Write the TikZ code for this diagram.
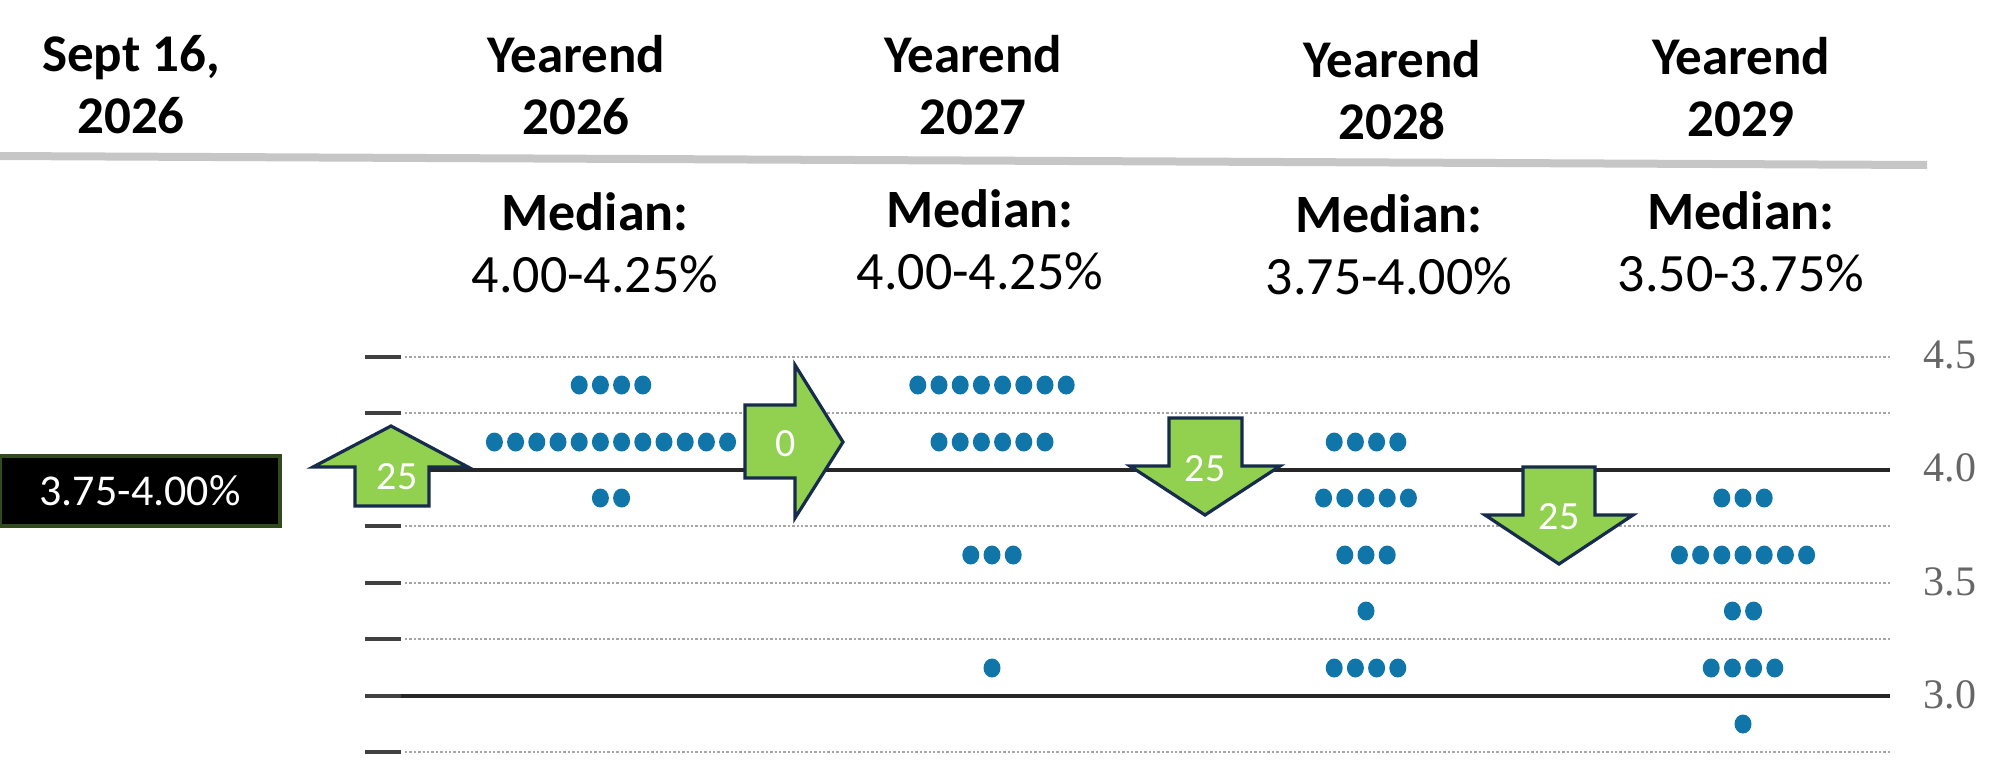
\documentclass[tikz,border=0pt]{standalone}
\usepackage{fontspec}
\setmainfont{Carlito}
\newfontfamily\axisfont{Liberation Serif}
\definecolor{dotblue}{RGB}{16,118,170}
\definecolor{arrowgreen}{RGB}{146,208,80}
\definecolor{arrowline}{RGB}{23,43,77}
\definecolor{boxgreen}{RGB}{50,75,30}
\newcommand{\dotrow}[3]{% center x, y, count
  \foreach \k in {1,...,#3}
    \fill[dotblue] ({#1+21.2*(\k-(#3+1)/2)},#2) ellipse (8.5 and 9.5);}
\tikzset{
  head/.style={font=\bfseries\fontsize{26.5}{31}\selectfont, align=center},
  median/.style={font=\fontsize{27}{31}\selectfont, align=center},
  grid/.style={gray!70, densely dotted, line width=1.2pt},
  level/.style={black!85, line width=2pt},
  tick/.style={black!75, line width=2.2pt},
  move/.style={fill=arrowgreen, draw=arrowline, line width=1.6pt, line join=miter},
  movelabel/.style={text=white, font=\fontsize{20}{22}\selectfont},
  axislabel/.style={text=gray!80!black, font=\axisfont\fontsize{21}{23}\selectfont},
}
\begin{document}
\begin{tikzpicture}[x=0.5pt,y=-0.5pt]
\useasboundingbox (0,0) rectangle (1998,773);
% header
\node[head] (sept) at (131,85) {Sept 16,\\2026};
\node[head] (y26) at (576,85) {Yearend\\2026};
\node[head] (y27) at (973,85) {Yearend\\2027};
\node[head] (y28) at (1392,90) {Yearend\\2028};
\node[head] (y29) at (1741,87) {Yearend\\2029};
\draw[gray!45, line width=4pt] (0,156) -- (1927,165);
\node[median] (m26) at (595,243) {\textbf{Median:}\\4.00-4.25\%};
\node[median] (m27) at (980,240) {\textbf{Median:}\\4.00-4.25\%};
\node[median] (m28) at (1389,245) {\textbf{Median:}\\3.75-4.00\%};
\node[median] (m29) at (1741,242) {\textbf{Median:}\\3.50-3.75\%};
% grid
\foreach \yy in {357,413,526,583,639,752}
  \draw[grid] (405,\yy) -- (1890,\yy);
\foreach \yy in {470,696}
  \draw[level] (365,\yy) -- (1890,\yy);
\foreach \yy in {357,413,470,526,583,639,696,752}
  \draw[tick] (365,\yy) -- (401,\yy);
\node[axislabel] (a45) at (1950,355) {4.5};
\node[axislabel] (a40) at (1950,468) {4.0};
\node[axislabel] (a35) at (1950,582) {3.5};
\node[axislabel] (a30) at (1950,695) {3.0};
% dots
\dotrow{611}{385}{4} \dotrow{611}{442}{12} \dotrow{611}{498}{2}
\dotrow{992}{385}{8} \dotrow{992}{442}{6} \dotrow{992}{555}{3} \dotrow{992}{668}{1}
\dotrow{1366}{442}{4} \dotrow{1366}{498}{5} \dotrow{1366}{555}{3} \dotrow{1366}{611}{1} \dotrow{1366}{668}{4}
\dotrow{1743}{498}{3} \dotrow{1743}{555}{7} \dotrow{1743}{611}{2} \dotrow{1743}{668}{4} \dotrow{1743}{724}{1}
% current rate
\node[fill=black, draw=boxgreen, line width=2pt, text=white, minimum width=140pt, minimum height=35pt,
  font=\fontsize{22}{24}\selectfont] (now) at (140,491) {3.75-4.00\%};
% moves
\draw[move] (355,506) -- (355,467) -- (313,467) -- (391,426) -- (468,467) -- (429,467) -- (429,506) -- cycle;
\node[movelabel] (up) at (397,477) {25};
\draw[move] (745,405) -- (795,405) -- (795,365) -- (843,442) -- (795,518) -- (795,478) -- (745,478) -- cycle;
\node[movelabel] (hold) at (786,444) {0};
\draw[move] (1169,418) -- (1242,418) -- (1242,466) -- (1280,466) -- (1205,515) -- (1130,466) -- (1169,466) -- cycle;
\node[movelabel] (cut1) at (1205,469) {25};
\draw[move] (1523,467) -- (1595,467) -- (1595,515) -- (1633,515) -- (1559,564) -- (1485,515) -- (1523,515) -- cycle;
\node[movelabel] (cut2) at (1559,517) {25};
\end{tikzpicture}
\end{document}
